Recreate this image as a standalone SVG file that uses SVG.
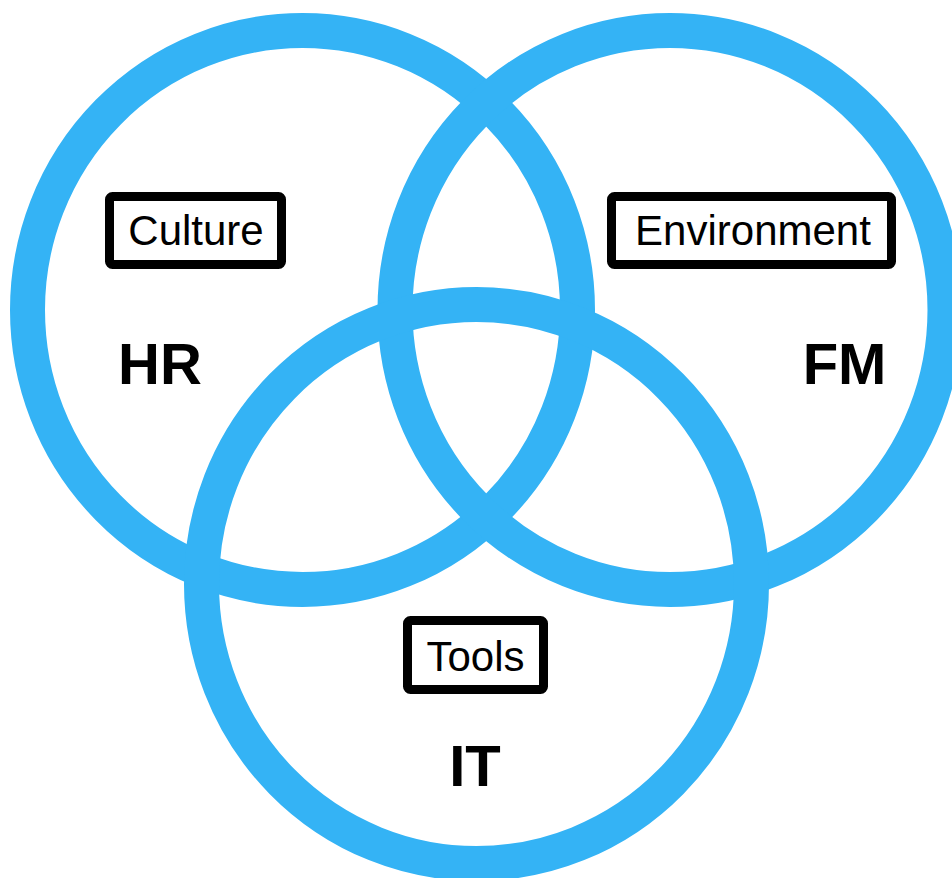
<svg xmlns="http://www.w3.org/2000/svg" width="952" height="878" viewBox="0 0 952 878">
  <style>
    .ring { fill: none; stroke: #34b3f5; stroke-width: 35; }
    .tag { fill: #ffffff; stroke: #000000; stroke-width: 9; }
    .tagtext { font-family: "Liberation Sans", Arial, sans-serif; font-size: 42px; fill: #000000; text-anchor: middle; }
    .name { font-family: "Liberation Sans", Arial, sans-serif; font-size: 58px; font-weight: bold; fill: #000000; text-anchor: middle; }
  </style>
  <rect x="0" y="0" width="952" height="878" fill="#ffffff"/>

  <!-- three overlapping rings -->
  <g id="ring-hr">
    <ellipse class="ring" cx="302.5" cy="310" rx="275" ry="279.5"/>
  </g>
  <g id="ring-fm">
    <ellipse class="ring" cx="670" cy="310" rx="275" ry="279.5"/>
  </g>
  <g id="ring-it">
    <ellipse class="ring" cx="476.5" cy="584" rx="275" ry="279.5"/>
  </g>

  <g id="connectors"></g>

  <!-- HR -->
  <g id="node-hr">
    <rect class="tag" x="109.5" y="196.5" width="172" height="68" rx="3"/>
    <text class="tagtext" x="196" y="245">Culture</text>
    <text class="name" x="160" y="384">HR</text>
  </g>

  <!-- FM -->
  <g id="node-fm">
    <rect class="tag" x="611.5" y="196.5" width="280" height="68" rx="3"/>
    <text class="tagtext" x="753" y="245">Environment</text>
    <text class="name" x="844.5" y="384">FM</text>
  </g>

  <!-- IT -->
  <g id="node-it">
    <rect class="tag" x="407.5" y="620.5" width="136" height="69" rx="3"/>
    <text class="tagtext" x="475.5" y="671">Tools</text>
    <text class="name" x="475" y="786">IT</text>
  </g>
</svg>
